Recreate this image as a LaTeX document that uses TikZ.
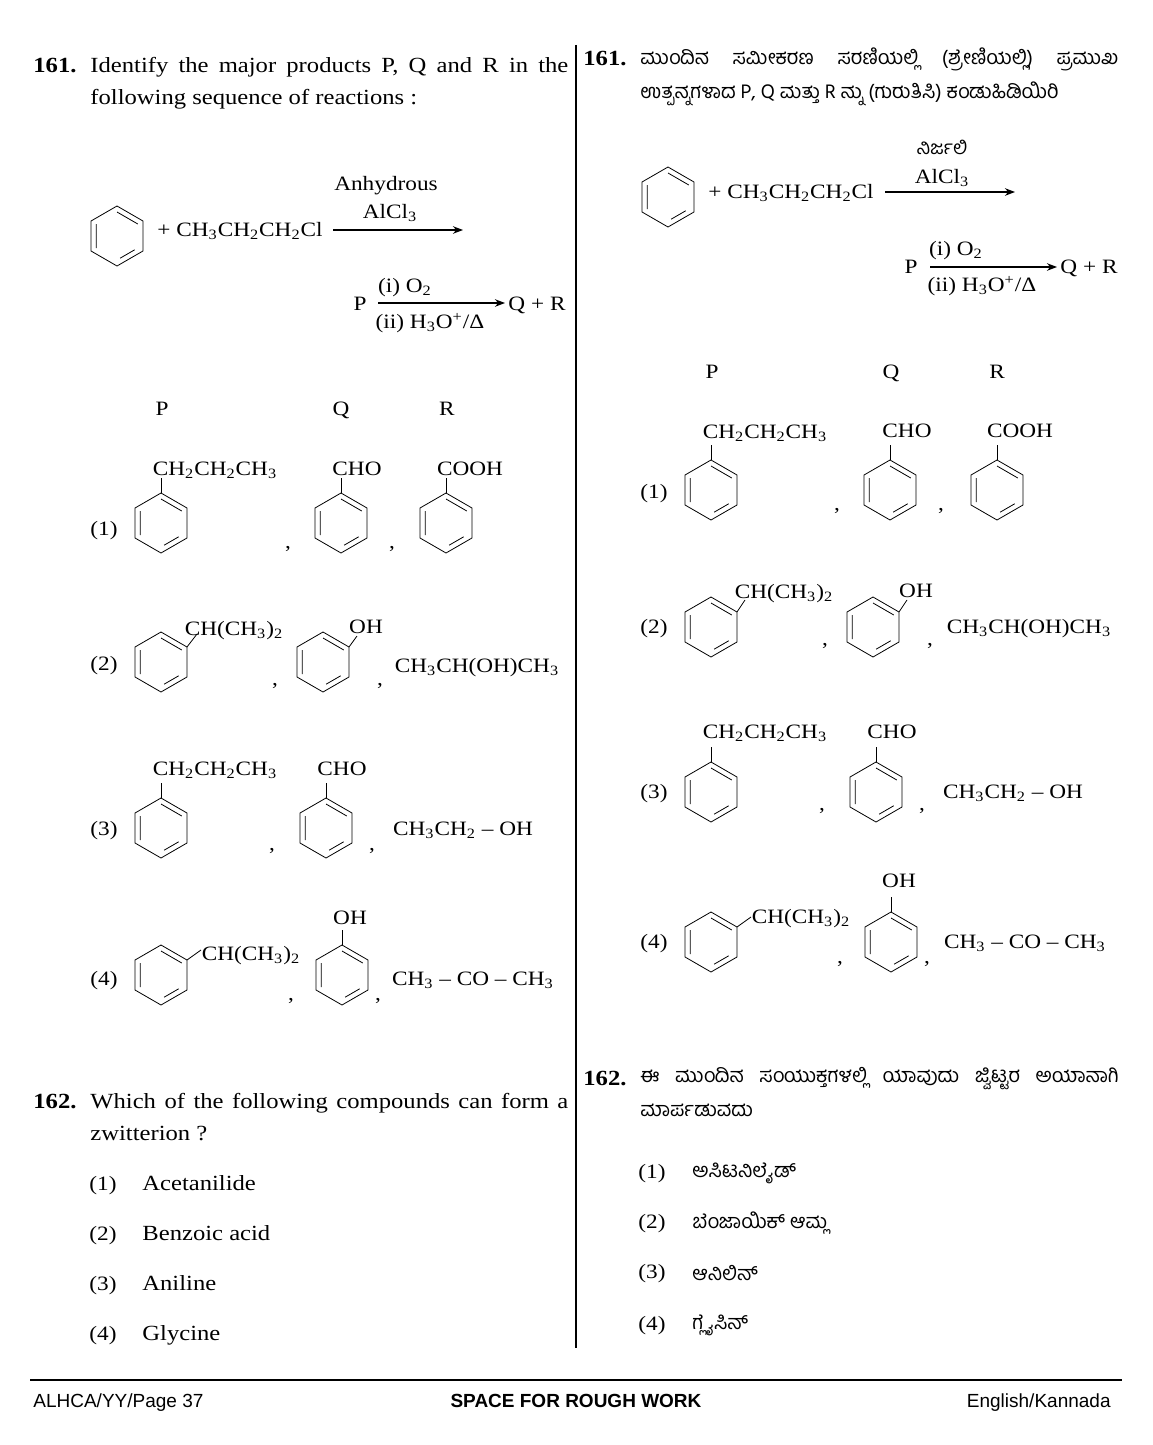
\documentclass[tikz,border=0pt]{standalone}
\usepackage{fontspec}
\usetikzlibrary{arrows.meta}
\setmainfont[FakeStretch=1.14]{Liberation Serif}
\newfontfamily\footfont{Liberation Sans}
\newfontfamily\kan[Script=Kannada]{Hind Mysuru}
\newcommand\sub[1]{\textsubscript{#1}}
\newcommand\benzring[2]{%
  \draw[shift={(#1,#2)}] (270:30)--(330:30)--(30:30)--(90:30)--(150:30)--(210:30)--cycle;
  \draw[shift={(#1,#2)},shorten <=1.8pt,shorten >=1.8pt] (150:24)--(210:24) (270:24)--(330:24) (30:24)--(90:24);}
\tikzset{
  txt/.style={inner sep=0pt,text height=1.6ex,text depth=.45ex,font=\fontsize{10.2}{16}\selectfont},
  para/.style={inner sep=0pt,font=\fontsize{10.8}{16}\selectfont,anchor=north west,text width=239pt,align=justify},
  kpara/.style={para,font=\fontsize{10}{17}\selectfont\kan},
  qnum/.style={txt,font=\fontsize{10.8}{16}\selectfont\bfseries},
  rarrow/.style={-{Stealth[length=5pt]},thick}
}
\begin{document}
\begin{tikzpicture}[x=0.5pt,y=-0.5pt]
  \useasboundingbox (0,0) rectangle (1152,1445);
  % divider and footer
  \draw[thick] (576,45) -- (576,1348);
  \draw[thick] (30,1380) -- (1122,1380);
  \node[txt,anchor=west,font=\footfont\fontsize{9.5}{11}\selectfont] (foot1) at (33,1402) {ALHCA/YY/Page 37};
  \node[txt,font=\footfont\bfseries\fontsize{9.5}{11}\selectfont] (foot2) at (576,1402) {SPACE FOR ROUGH WORK};
  \node[txt,anchor=east,font=\footfont\fontsize{9.5}{11}\selectfont] (foot3) at (1111,1402) {English/Kannada};

  % ---- left column: question 161
  \node[qnum,anchor=west] (qa) at (33,67) {161.};
  \node[para] (qatext) at (90,57) {Identify the major products P, Q and R in the\linebreak following sequence of reactions :};
  \benzring{117}{236}
  \node[txt,anchor=west] (reagA) at (157,231) {+ CH\sub3CH\sub2CH\sub2Cl};
  \coordinate (a1) at (333,230); \coordinate (a2) at (463,230);
  \draw[rarrow] (a1) -- (a2);
  \node[txt] (anhA) at (386,185) {Anhydrous};
  \node[txt] (alA) at (390,213) {AlCl\sub3};
  \node[txt] (pA) at (360,305) {P};
  \node[txt] (qrA) at (537,305) {Q + R};
  \draw[rarrow] (378,303) coordinate (b1) -- (505,303) coordinate (b2);
  \node[txt] (o2A) at (405,287) {(i) O\sub2};
  \node[txt] (h3A) at (430,323) {(ii) H\sub3O\textsuperscript{+}/Δ};
  \node[txt] at (162,410) {P};
  \node[txt] at (341,410) {Q};
  \node[txt] at (447,410) {R};
  % option 1
  \node[txt] at (104,530) {(1)};
  \benzring{161}{523} \draw (161,493) -- (161,478);
  \node[txt] at (215,470) {CH\sub2CH\sub2CH\sub3};
  \node[txt] at (288,543) {,};
  \benzring{341}{523} \draw (341,493) -- (341,478);
  \node[txt] at (357,470) {CHO};
  \node[txt] at (392,543) {,};
  \benzring{446}{523} \draw (446,493) -- (446,478);
  \node[txt] at (470,470) {COOH};
  % option 2
  \node[txt] at (104,665) {(2)};
  \benzring{161}{662} \draw (187,647) -- (197,634);
  \node[txt] at (234,630) {CH(CH\sub3)\sub2};
  \node[txt] at (275,680) {,};
  \benzring{323}{662} \draw (349,647) -- (357,636);
  \node[txt] at (366,628) {OH};
  \node[txt] at (380,680) {,};
  \node[txt] at (477,667) {CH\sub3CH(OH)CH\sub3};
  % option 3
  \node[txt] at (104,830) {(3)};
  \benzring{161}{828} \draw (161,798) -- (161,783);
  \node[txt] at (215,770) {CH\sub2CH\sub2CH\sub3};
  \node[txt] at (272,845) {,};
  \benzring{326}{828} \draw (326,798) -- (326,783);
  \node[txt] at (342,770) {CHO};
  \node[txt] at (372,845) {,};
  \node[txt] at (463,830) {CH\sub3CH\sub2 -- OH};
  % option 4
  \node[txt] at (104,980) {(4)};
  \benzring{161}{975} \draw (187,960) -- (201,950);
  \node[txt] at (251,955) {CH(CH\sub3)\sub2};
  \node[txt] at (291,995) {,};
  \benzring{342}{975} \draw (342,945) -- (342,930);
  \node[txt] at (350,919) {OH};
  \node[txt] at (378,995) {,};
  \node[txt] at (473,980) {CH\sub3 -- CO -- CH\sub3};

  % ---- left column: question 162
  \node[qnum,anchor=west] (qb) at (33,1103) {162.};
  \node[para] (qbtext) at (90,1093) {Which of the following compounds can form a\linebreak zwitterion ?};
  \foreach \n/\yy/\t in {1/1185/Acetanilide, 2/1235/Benzoic acid, 3/1285/Aniline, 4/1335/Glycine}{
    \node[txt] at (103,\yy) {(\n)};
    \node[txt,anchor=west,font=\fontsize{10.8}{16}\selectfont] at (142,\yy) {\t};
  }

  % ---- right column: question 161
  \node[qnum,anchor=west] (qc) at (583,60) {161.};
  \node[kpara] (qctext) at (640,47) {ಮುಂದಿನ ಸಮೀಕರಣ ಸರಣಿಯಲ್ಲಿ (ಶ್ರೇಣಿಯಲ್ಲಿ) ಪ್ರಮುಖ ಉತ್ಪನ್ನಗಳಾದ P, Q ಮತ್ತು R ನ್ನು (ಗುರುತಿಸಿ) ಕಂಡುಹಿಡಿಯಿರಿ};
  \benzring{668}{197}
  \node[txt,anchor=west] (reagB) at (708,193) {+ CH\sub3CH\sub2CH\sub2Cl};
  \coordinate (c1) at (885,192); \coordinate (c2) at (1015,192);
  \draw[rarrow] (c1) -- (c2);
  \node[inner sep=0pt,font=\fontsize{9.5}{11}\selectfont\kan] (anhB) at (942,147) {ನಿರ್ಜಲಿ};
  \node[txt] (alB) at (942,178) {AlCl\sub3};
  \node[txt] (pB) at (911,268) {P};
  \node[txt] (qrB) at (1089,268) {Q + R};
  \draw[rarrow] (930,267) coordinate (d1) -- (1057,267) coordinate (d2);
  \node[txt] (o2B) at (956,250) {(i) O\sub2};
  \node[txt] (h3B) at (982,286) {(ii) H\sub3O\textsuperscript{+}/Δ};
  \node[txt] at (712,373) {P};
  \node[txt] at (891,373) {Q};
  \node[txt] at (997,373) {R};
  % option 1
  \node[txt] at (654,493) {(1)};
  \benzring{711}{490} \draw (711,460) -- (711,445);
  \node[txt] at (765,433) {CH\sub2CH\sub2CH\sub3};
  \node[txt] at (837,505) {,};
  \benzring{890}{490} \draw (890,460) -- (890,445);
  \node[txt] at (907,432) {CHO};
  \node[txt] at (941,505) {,};
  \benzring{997}{490} \draw (997,460) -- (997,445);
  \node[txt] at (1020,432) {COOH};
  % option 2
  \node[txt] at (654,628) {(2)};
  \benzring{711}{627} \draw (737,612) -- (745,600);
  \node[txt] at (784,593) {CH(CH\sub3)\sub2};
  \node[txt] at (825,640) {,};
  \benzring{873}{627} \draw (899,612) -- (907,600);
  \node[txt] at (916,592) {OH};
  \node[txt] at (930,640) {,};
  \node[txt] at (1029,628) {CH\sub3CH(OH)CH\sub3};
  % option 3
  \node[txt] at (654,793) {(3)};
  \benzring{711}{792} \draw (711,762) -- (711,747);
  \node[txt] at (765,733) {CH\sub2CH\sub2CH\sub3};
  \node[txt] at (822,805) {,};
  \benzring{876}{792} \draw (876,762) -- (876,747);
  \node[txt] at (892,733) {CHO};
  \node[txt] at (922,805) {,};
  \node[txt] at (1013,793) {CH\sub3CH\sub2 -- OH};
  % option 4
  \node[txt] at (654,943) {(4)};
  \benzring{711}{942} \draw (737,927) -- (751,917);
  \node[txt] at (801,918) {CH(CH\sub3)\sub2};
  \node[txt] at (840,958) {,};
  \benzring{891}{942} \draw (891,912) -- (891,897);
  \node[txt] at (899,882) {OH};
  \node[txt] at (927,958) {,};
  \node[txt] at (1025,943) {CH\sub3 -- CO -- CH\sub3};

  % ---- right column: question 162
  \node[qnum,anchor=west] (qd) at (583,1080) {162.};
  \node[kpara] (qdtext) at (640,1067) {ಈ ಮುಂದಿನ ಸಂಯುಕ್ತಗಳಲ್ಲಿ ಯಾವುದು ಜ್ವಿಟ್ಟರ ಅಯಾನಾಗಿ ಮಾರ್ಪಡುವದು};
  \foreach \n/\yy/\t in {1/1173/ಅಸಿಟನಿಲೈಡ್, 2/1223/ಬೆಂಜಾಯಿಕ್ ಆಮ್ಲ, 3/1273/ಆನಿಲಿನ್, 4/1325/ಗ್ಲೈಸಿನ್}{
    \node[txt] at (652,\yy) {(\n)};
    \node[inner sep=0pt,anchor=west,font=\fontsize{10}{12}\selectfont\kan] at (692,\yy) {\t};
  }
\end{tikzpicture}
\end{document}
